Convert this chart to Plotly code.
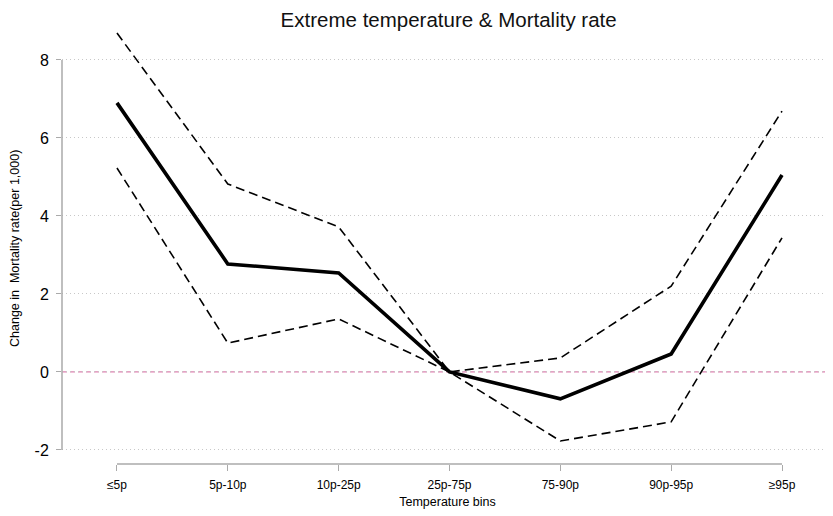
import plotly.graph_objects as go

categories = ["≤5p", "5p-10p", "10p-25p", "25p-75p", "75-90p", "90p-95p", "≥95p"]
estimate = [6.90, 2.77, 2.54, 0.0, -0.69, 0.46, 5.05]
upper_ci = [8.69, 4.82, 3.72, 0.0, 0.36, 2.20, 6.69]
lower_ci = [5.23, 0.74, 1.36, 0.0, -1.77, -1.28, 3.44]
y_ticks = [-2, 0, 2, 4, 6, 8]
y_tick_labels = ["-2", "0", "2", "4", "6", "8"]

xpos = list(range(len(categories)))
x_range = [-0.496, 6.46]
y_range = [-2.36, 8.897]

def xpaper(v):
    return (v - x_range[0]) / (x_range[1] - x_range[0])

def ypaper(v):
    return (v - y_range[0]) / (y_range[1] - y_range[0])

fig = go.Figure()
fig.add_trace(go.Scatter(x=xpos, y=upper_ci, mode="lines",
                         line=dict(color="black", width=1.6, dash="9px,5px"), showlegend=False))
fig.add_trace(go.Scatter(x=xpos, y=lower_ci, mode="lines",
                         line=dict(color="black", width=1.6, dash="9px,5px"), showlegend=False))
fig.add_trace(go.Scatter(x=xpos, y=estimate, mode="lines",
                         line=dict(color="black", width=3.6), showlegend=False))

FONT = "Liberation Sans, Arial, sans-serif"

fig.update_layout(
    width=833, height=516,
    margin=dict(l=54, r=8, t=17, b=60, autoexpand=False),
    plot_bgcolor="white", paper_bgcolor="white",
    font=dict(family=FONT, color="black"),
    title=dict(text="Extreme temperature & Mortality rate", x=0.529, xanchor="center",
               y=0.978, yanchor="middle", font=dict(size=20.5, color="#111111")),
    xaxis=dict(range=x_range, tickmode="array", tickvals=xpos, ticktext=categories,
               showgrid=False, zeroline=False, showline=False, automargin=False,
               ticks="outside", ticklen=6, tickcolor="#aaaaaa", tickwidth=1.2,
               tickfont=dict(size=12), ticklabelstandoff=4,
               title=dict(text="Temperature bins", font=dict(size=12.5), standoff=5)),
    yaxis=dict(range=y_range, tickmode="array", tickvals=y_ticks, ticktext=y_tick_labels,
               showgrid=True, gridcolor="#c8c8c8", griddash="1px,3px", gridwidth=1,
               zeroline=False, showline=False, automargin=False,
               ticks="outside", ticklen=5, tickcolor="#aaaaaa", tickwidth=1.2,
               tickfont=dict(size=16), ticklabelstandoff=4),
    shapes=[
        dict(type="line", xref="paper", yref="paper", x0=0, x1=0,
             y0=ypaper(y_ticks[0]), y1=ypaper(y_ticks[-1]),
             line=dict(color="#aaaaaa", width=1.5), layer="above"),
        dict(type="line", xref="paper", yref="paper", x0=xpaper(xpos[0]), x1=xpaper(xpos[-1]),
             y0=0, y1=0, line=dict(color="#aaaaaa", width=1.5), layer="above"),
        dict(type="line", xref="paper", yref="y", x0=0, x1=1, y0=0, y1=0,
             line=dict(color="#db82b0", width=1.3, dash="5px,3px"), layer="below"),
    ],
    annotations=[
        dict(text="Change in  Mortality rate(per 1,000)", xref="paper", yref="paper",
             x=-0.061, y=0.492, textangle=-90, showarrow=False,
             font=dict(size=12.5, color="black"), xanchor="center", yanchor="middle"),
    ],
)

fig.write_html("out.html")
